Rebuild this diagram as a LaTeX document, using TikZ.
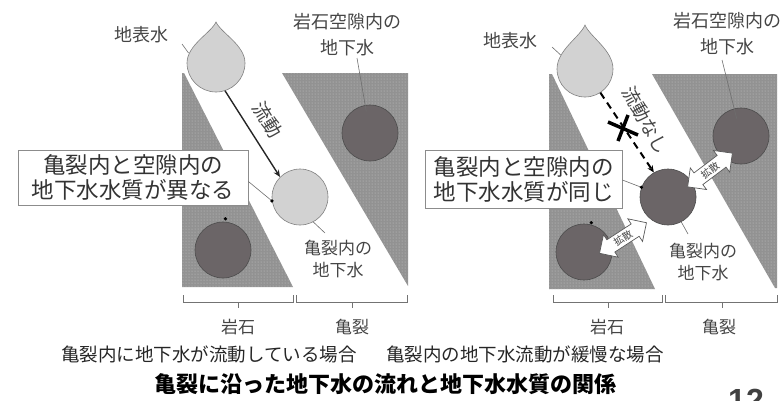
\documentclass[tikz,border=0pt]{standalone}
\usepackage{fontspec}
\newfontfamily\jp{Noto Sans CJK JP}
\newfontfamily\numfont{Liberation Sans}
\usetikzlibrary{shapes.arrows,patterns,arrows.meta}

\definecolor{rockgray}{HTML}{929292}
\definecolor{porewater}{HTML}{6B6567}
\definecolor{surfwater}{HTML}{D2D2D2}
\definecolor{labelgray}{HTML}{454545}
\definecolor{linegray}{HTML}{6E6E6E}

\tikzset{
  rock/.style={fill=rockgray, postaction={pattern=dots, pattern color=black!22}},
  darkcirc/.style={circle, minimum size=56pt, inner sep=0pt, fill=porewater, draw=black!70, line width=0.6pt},
  lightcirc/.style={circle, minimum size=56pt, inner sep=0pt, fill=surfwater, draw=black!50, line width=0.6pt},
  bulb/.style={circle, minimum size=58pt, inner sep=0pt},
  dropshape/.style={fill=surfwater, draw=black!50, line width=0.6pt},
  lbl/.style={font=\jp\fontsize{18}{26}\selectfont, text=labelgray, align=center, inner sep=0pt},
  smlbl/.style={font=\jp\fontsize{17}{22}\selectfont, text=labelgray, align=center, inner sep=0pt},
  notebox/.style={draw=black!45, fill=white, line width=0.8pt,
    font=\jp\fontsize{22.5}{25}\selectfont, text=black!80, align=center, inner sep=0pt},
  leader/.style={draw=linegray, line width=0.6pt},
  dotend/.style={fill=black},
  bracketline/.style={draw=black!55, line width=0.8pt},
  flowarrow/.style={draw=black!85, line width=1.4pt, -{Stealth[length=7pt,width=6pt]}},
  noflow/.style={draw=black, line width=2pt, dash pattern=on 7pt off 5pt, -{Stealth[length=7pt,width=6pt]}},
  crossmark/.style={draw=black, line width=3.5pt},
  diffuse/.style={double arrow, double arrow head extend=5pt, minimum height=56pt,
    minimum width=27pt, inner sep=1pt, draw=black!65, fill=white, line width=0.7pt,
    font=\jp\fontsize{10}{10}\selectfont, text=labelgray},
  caption/.style={font=\jp\fontsize{18.5}{20}\selectfont, text=black!85, inner sep=0pt},
  title/.style={font=\jp\bfseries\fontsize{22}{24}\selectfont, text=black, inner sep=0pt},
}

\begin{document}
\begin{tikzpicture}[x=1pt, y=-1pt]
\useasboundingbox (0,0) rectangle (783,400);

% ---------------- left panel: active flow in the fracture ----------------
\fill[rock] (182,73) -- (184,73) -- (293,287) -- (182,287) -- cycle;
\fill[rock] (282,73) -- (408,73) -- (408,286) -- cycle;

\node[darkcirc]  (Lrock1) at (370,133) {};
\node[lightcirc] (Lcrack) at (300,197) {};
\node[darkcirc]  (Lrock2) at (223,250) {};

% surface-water drop
\path[dropshape] (216,22) .. controls (211,33) and (187,45) .. (187,63)
  arc[start angle=180, end angle=0, radius=29] .. controls (245,45) and (221,33) .. (216,22) -- cycle;
\node[bulb] (Ldrop) at (216,63) {};

\draw[flowarrow] (Ldrop.-72) -- (Lcrack.135);
\node[lbl, font=\jp\fontsize{19}{20}\selectfont, rotate=-58] (Lflow) at (268,120) {流動};

\node[lbl] (Lsurf) at (141,35) {地表水};
\coordinate (Lsurftail) at (182,44);
\draw[leader] (Lsurftail) -- (Ldrop.160);

\node[lbl] (Lpore) at (347,35) {岩石空隙内の\\地下水};
\coordinate (Lporetail) at (357,58);
\draw[leader, shorten >=22pt] (Lporetail) -- (Lrock1.center);

\node[smlbl] (Lcracklbl) at (338,259) {亀裂内の\\地下水};
\coordinate (Lcracktail) at (325,233);
\draw[leader] (Lcrack.-62) -- (Lcracktail);

\node[notebox, minimum width=230pt, minimum height=55pt] (Lbox) at (133,177.5)
  {亀裂内と空隙内の\\地下水水質が異なる};
\draw[leader] ([yshift=-4pt]Lbox.east) -- (Lcrack.188);
\fill[dotend] (Lcrack.188) circle (1.8);
\fill[dotend] (Lrock2.85) ++(0,-3) circle (1.8);

% brackets under the block
\draw[bracketline] (183,295) -- (183,302) -- (293,302) -- (293,295);
\draw[bracketline] (238,302) -- (238,308);
\draw[bracketline] (296,295) -- (296,302) -- (407,302) -- (407,295);
\draw[bracketline] (352,302) -- (352,308);
\node[smlbl] (Lrocklbl) at (238,327) {岩石};
\node[smlbl] (Lfraclbl) at (352,327) {亀裂};

\node[caption] (Lcap) at (209,354) {亀裂内に地下水が流動している場合};

% ---------------- right panel: slow flow in the fracture ----------------
\fill[rock] (549,74) -- (552,74) -- (655,289) -- (549,289) -- cycle;
\fill[rock] (652,74) -- (777,74) -- (777,288) -- (775,288) -- cycle;

\node[darkcirc] (Rrock1) at (741,136) {};
\node[darkcirc] (Rcrack) at (668,197) {};
\node[darkcirc] (Rrock2) at (584,252) {};

\path[dropshape] (585,25) .. controls (580,37) and (557,50) .. (557,69)
  arc[start angle=180, end angle=0, radius=28] .. controls (613,50) and (590,37) .. (585,25) -- cycle;
\node[bulb, minimum size=56pt] (Rdrop) at (585,69) {};

\draw[noflow] (Rdrop.-57) -- (Rcrack.120);
\draw[crossmark] (608,122) -- (638,135);
\draw[crossmark] (628,115) -- (618,141);
\node[lbl, font=\jp\fontsize{18.5}{20}\selectfont, rotate=-61] (Rflow) at (646,120) {流動なし};

\node[diffuse, rotate=37] (Rdiffup) at (710,170) {拡散};
\node[diffuse, rotate=33] (Rdifflow) at (623,238) {拡散};

\node[lbl] (Rsurf) at (510,41) {地表水};
\coordinate (Rsurftail) at (552,47);
\draw[leader] (Rsurftail) -- (Rdrop.150);

\node[lbl] (Rpore) at (727,34) {岩石空隙内の\\地下水};
\coordinate (Rporetail) at (722,60);
\draw[leader, shorten >=18pt] (Rporetail) -- (Rrock1.center);

\node[smlbl] (Rcracklbl) at (703,262) {亀裂内の\\地下水};
\coordinate (Rcracktail) at (688,234);
\draw[leader] (Rcrack.-62) -- (Rcracktail);

\node[notebox, minimum width=197pt, minimum height=58pt] (Rbox) at (523.5,179)
  {亀裂内と空隙内の\\地下水水質が同じ};
\draw[leader] ([yshift=-1pt]Rbox.east) -- (Rcrack.160);
\fill[dotend] (Rcrack.160) circle (1.8);
\fill[dotend] (Rrock2.75) ++(0,-2) circle (1.8);

\draw[bracketline] (553,295) -- (553,302) -- (662,302) -- (662,295);
\draw[bracketline] (608,302) -- (608,308);
\draw[bracketline] (665,295) -- (665,302) -- (777,302) -- (777,295);
\draw[bracketline] (722,302) -- (722,308);
\node[smlbl] (Rrocklbl) at (607,327) {岩石};
\node[smlbl] (Rfraclbl) at (719,327) {亀裂};

\node[caption] (Rcap) at (525,354) {亀裂内の地下水流動が緩慢な場合};

% ---------------- title and page number ----------------
\node[title] (heading) at (385,384) {亀裂に沿った地下水の流れと地下水水質の関係};
\node[anchor=base west, font=\numfont\bfseries\fontsize{32}{32}\selectfont, text=black!75, inner sep=0pt]
  (pagenum) at (728,411) {12};
\end{tikzpicture}
\end{document}
